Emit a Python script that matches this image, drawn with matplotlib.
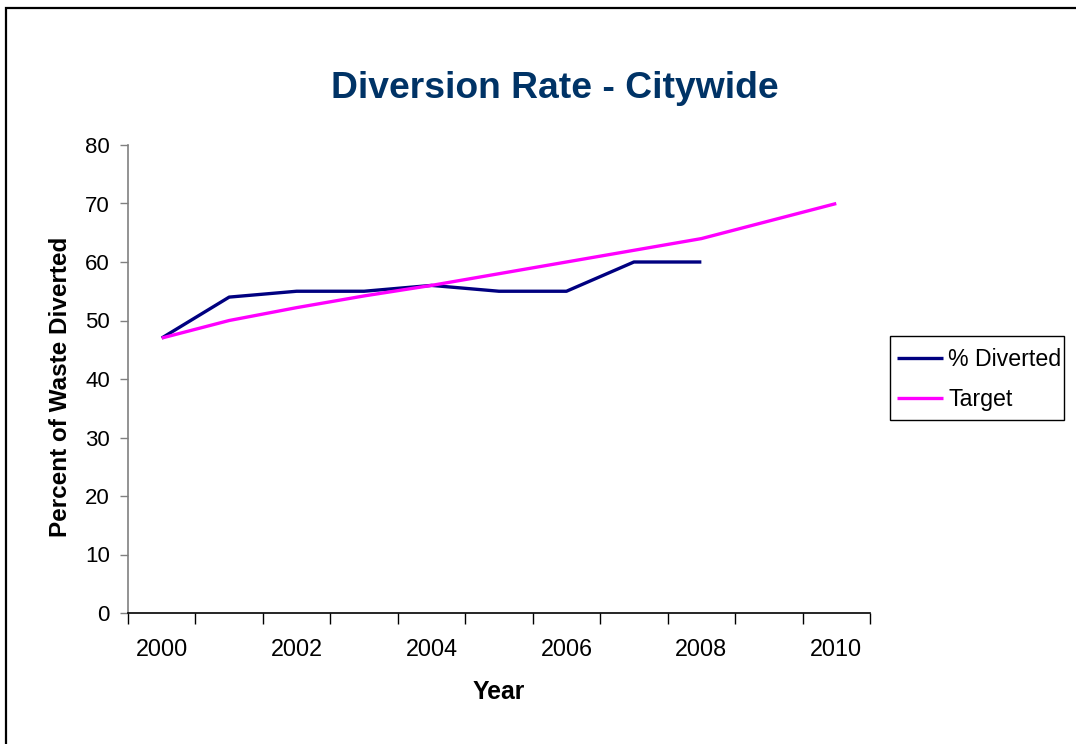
import matplotlib
matplotlib.use("Agg")
import matplotlib.pyplot as plt
from matplotlib.patches import Rectangle
from matplotlib.ticker import FixedLocator, NullFormatter

plt.rcParams['font.family'] = ['Liberation Sans', 'DejaVu Sans']

years = [2000, 2001, 2002, 2003, 2004, 2005, 2006, 2007, 2008, 2009, 2010]
diverted = [47, 54, 55, 55, 56, 55, 55, 60, 60]
target = [47, 50, 52.2, 54.2, 56, 58, 60, 62, 64, 67, 70]
x_labels = ["2000", "2002", "2004", "2006", "2008", "2010"]
y_ticks = [0, 10, 20, 30, 40, 50, 60, 70, 80]

W, H = 1076, 744
fig = plt.figure(figsize=(W / 100, H / 100), dpi=100)
ax = fig.add_axes([128 / W, 1 - 613 / H, (870 - 128) / W, (613 - 145) / H])

xs = list(range(len(years)))
ax.plot(xs[:len(diverted)], diverted, color='#000080', lw=2.4, label='% Diverted', solid_capstyle='butt')
ax.plot(xs, target, color='#FF00FF', lw=2.4, label='Target', solid_capstyle='butt')

ax.set_xlim(-0.5, len(years) - 0.5)
ax.set_ylim(0, 80)
ax.set_yticks(y_ticks)
ax.tick_params(axis='y', direction='out', length=6, width=1, color='#808080', labelsize=16, pad=7)

ax.xaxis.set_major_locator(FixedLocator([i - 0.5 for i in range(len(years) + 1)]))
ax.xaxis.set_major_formatter(NullFormatter())
ax.xaxis.set_minor_locator(FixedLocator([years.index(int(l)) for l in x_labels]))
ax.set_xticklabels(x_labels, minor=True)
ax.tick_params(axis='x', which='major', direction='out', length=8, width=1, color='#000000')
ax.tick_params(axis='x', which='minor', length=0, labelsize=16.8, pad=18)

for s in ['top', 'right']:
    ax.spines[s].set_visible(False)
ax.spines['left'].set_color('#808080')
ax.spines['left'].set_linewidth(1.2)
ax.spines['bottom'].set_color('#000000')
ax.spines['bottom'].set_linewidth(1.2)

fig.text(555 / W, 1 - 88 / H, 'Diversion Rate - Citywide', ha='center', va='center',
         fontsize=26.8, fontweight='bold', color='#003366')
fig.text(61 / W, 1 - 387 / H, 'Percent of Waste Diverted', ha='center', va='center',
         rotation=90, fontsize=17.5, fontweight='bold', color='black')
fig.text(499 / W, 1 - 692 / H, 'Year', ha='center', va='center',
         fontsize=17.8, fontweight='bold', color='black')

leg = fig.legend(loc='upper left', bbox_to_anchor=(897 / W, 1 - 348 / H), frameon=False,
                 fontsize=16.7, handlelength=1.98, handletextpad=0.22, borderpad=0,
                 labelspacing=0.72, borderaxespad=0)

fig.patches.append(Rectangle((890 / W, 1 - 420 / H), (1064 - 890) / W, (420 - 336) / H,
                             transform=fig.transFigure, fill=False, edgecolor='black', lw=1.0))

fig.patches.append(Rectangle((6 / W, -0.1), 1.2, 1 - 8 / H + 0.1, transform=fig.transFigure,
                             fill=False, edgecolor='black', lw=1.6, clip_on=False))

fig.savefig('out.png', dpi=100)
